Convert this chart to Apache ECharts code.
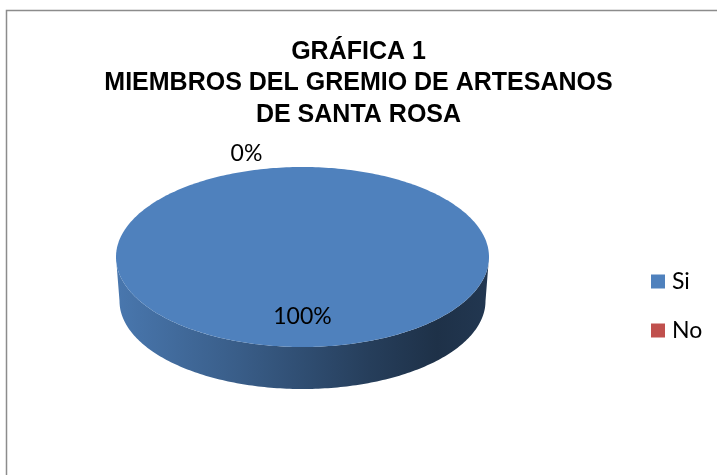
<!DOCTYPE html>
<html>
<head>
<meta charset="utf-8">
<script src="https://cdn.jsdelivr.net/npm/echarts@6/dist/echarts.min.js"></script>
<style>
html,body{margin:0;padding:0;background:#fff;}
#chart{width:717px;height:475px;}
</style>
</head>
<body>
<div id="chart"></div>
<script>
// ---- data ----
const titleLines = ['GRÁFICA 1', 'MIEMBROS DEL GREMIO DE ARTESANOS', 'DE SANTA ROSA'];
const categories = ['Si', 'No'];
const values = [100, 0];
const sliceColors = ['#4f81bd', '#c0504d'];

// ---- geometry / style (not data) ----
const PIE = { cx: 302.5, cy: 257, rx: 186.5, ry: 90, depth: 44, rxB: 183, ryB: 88 };
const LABEL_FONT = "Lato, 'Noto Sans', sans-serif";

const total = values.reduce((a, b) => a + b, 0);

function shade(hex, f) {
  const n = parseInt(hex.slice(1), 16);
  const r = Math.round(((n >> 16) & 255) * f), g = Math.round(((n >> 8) & 255) * f), b = Math.round((n & 255) * f);
  return 'rgb(' + r + ',' + g + ',' + b + ')';
}

function arcPts(cx, cy, rx, ry, a0, a1) {
  const pts = [];
  const n = Math.max(2, Math.ceil(Math.abs(a1 - a0) / (Math.PI / 180)));
  for (let k = 0; k <= n; k++) {
    const t = a0 + (a1 - a0) * k / n;
    pts.push([cx + rx * Math.cos(t), cy + ry * Math.sin(t)]);
  }
  return pts;
}

function makeRender(idx) {
  return function (params, api) {
    const v = api.value(0);
    let before = 0;
    for (let i = 0; i < idx; i++) before += values[i];
    const a0 = -Math.PI / 2 + 2 * Math.PI * before / total;
    const a1 = -Math.PI / 2 + 2 * Math.PI * (before + v) / total;
    const color = sliceColors[idx];
    const children = [];
    const P = PIE;
    if (v > 0) {
      for (let k = -1; k <= 1; k++) {
        const s = Math.max(a0, 2 * Math.PI * k);
        const e = Math.min(a1, 2 * Math.PI * k + Math.PI);
        if (e > s) {
          const top = arcPts(P.cx, P.cy, P.rx, P.ry, s, e);
          const bot = arcPts(P.cx, P.cy + P.depth, P.rxB, P.ryB, e, s);
          children.push({
            type: 'polygon',
            shape: { points: top.concat(bot) },
            style: {
              fill: {
                type: 'linear', global: true,
                x: P.cx - P.rx, y: 0, x2: P.cx + P.rx, y2: 0,
                colorStops: [
                  { offset: 0, color: shade(color, 0.92) },
                  { offset: 0.33, color: shade(color, 0.72) },
                  { offset: 0.68, color: shade(color, 0.48) },
                  { offset: 0.86, color: shade(color, 0.38) },
                  { offset: 1, color: shade(color, 0.43) }
                ]
              },
              stroke: null
            }
          });
        }
      }
      let pts = arcPts(P.cx, P.cy, P.rx, P.ry, a0, a1);
      if (a1 - a0 < 2 * Math.PI - 1e-6) pts = [[P.cx, P.cy]].concat(pts);
      children.push({ type: 'polygon', shape: { points: pts }, style: { fill: color, stroke: null } });
    }
    const pct = Math.round(v / total * 100) + '%';
    const mid = (a0 + a1) / 2;
    let lx, ly;
    if (v / total > 0.05) {
      lx = P.cx + 0.66 * P.rx * Math.cos(mid);
      ly = P.cy + 0.66 * P.ry * Math.sin(mid);
    } else {
      lx = P.cx + 1.15 * P.rx * Math.cos(mid) - 56;
      ly = P.cy + 1.15 * P.ry * Math.sin(mid);
    }
    children.push({
      type: 'text', z2: 10,
      style: { text: pct, x: lx, y: ly, align: 'center', verticalAlign: 'middle', fill: '#000', font: '23px ' + LABEL_FONT }
    });
    return { type: 'group', children: children };
  };
}

const chart = echarts.init(document.getElementById('chart'), null, { renderer: 'canvas' });
const series = categories.map((name, i) => ({
  type: 'custom',
  name: name,
  coordinateSystem: 'none',
  color: sliceColors[i],
  data: [[values[i]]],
  renderItem: makeRender(i),
  silent: true,
  animation: false
}));

chart.setOption({
  animation: false,
  backgroundColor: '#fff',
  title: {
    text: titleLines.join('\n'),
    left: 'center',
    top: 31,
    textStyle: {
      fontFamily: "'Liberation Sans', Arial, sans-serif",
      fontWeight: 'bold', fontSize: 25, lineHeight: 31.5, color: '#000'
    }
  },
  legend: {
    orient: 'vertical',
    left: 651, top: 270, padding: 0,
    icon: 'rect', itemWidth: 14, itemHeight: 14, itemGap: 26,
    data: categories,
    textStyle: { fontFamily: LABEL_FONT, fontSize: 23, color: '#000', padding: [0, 0, 0, 2] }
  },
  graphic: [{
    type: 'rect', silent: true,
    shape: { x: 6.5, y: 10.5, width: 760, height: 520 },
    style: { fill: null, stroke: '#8c8c8c', lineWidth: 1.5 }
  }],
  series: series
});
</script>
</body>
</html>
